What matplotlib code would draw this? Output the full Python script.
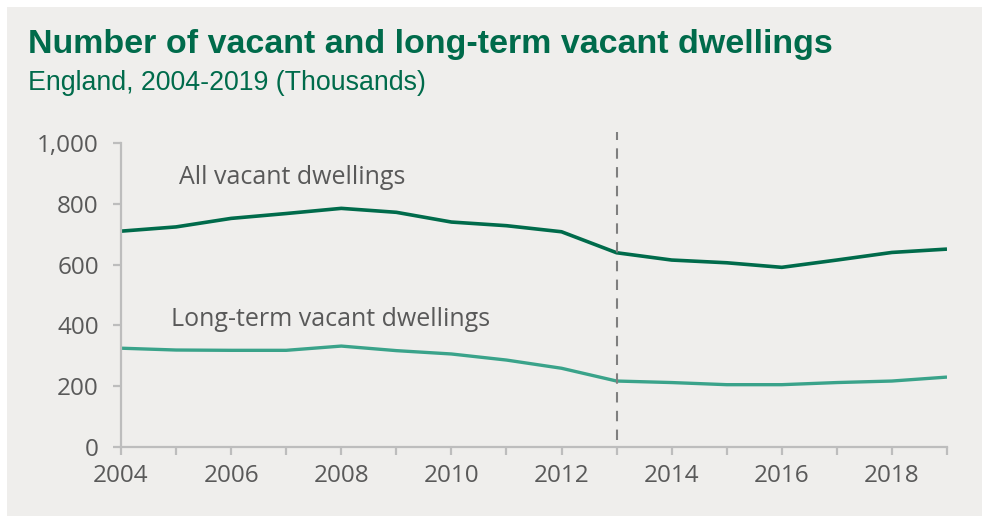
import matplotlib.pyplot as plt
from matplotlib.ticker import FuncFormatter

# values, thousands of dwellings
years = list(range(2004, 2020))
all_vacant = [710, 724, 752, 768, 785, 772, 740, 728, 708, 639, 615, 606, 591, 615, 640, 651]
long_term = [325, 319, 318, 318, 332, 317, 306, 286, 259, 217, 212, 205, 205, 212, 217, 230]
change_year = 2013

BG = "#efeeec"
DARK_GREEN = "#006b4b"
LIGHT_GREEN = "#3aa38a"
GREY_TXT = "#595959"
AXIS_GREY = "#bdbdbd"

plt.rcParams['font.family'] = ['Open Sans', 'DejaVu Sans']

fig = plt.figure(figsize=(9.82, 5.16), dpi=100)
fig.patch.set_facecolor("white")
# grey panel with a thin white margin on top and left
fig.patches.append(plt.Rectangle((7 / 982, -0.01), 1.02, 1.01 - 7 / 516, transform=fig.transFigure,
                                 facecolor=BG, edgecolor="none", zorder=-10))

ax = fig.add_axes([121 / 982, 1 - 447 / 516, (947 - 121) / 982, (447 - 143) / 516])
ax.set_facecolor("none")

ax.plot(years, all_vacant, color=DARK_GREEN, lw=2.6, solid_capstyle="butt")
ax.plot(years, long_term, color=LIGHT_GREEN, lw=2.4, solid_capstyle="butt")
ax.plot([change_year, change_year], [22, 1035], color="#7f7f7f", lw=1.5,
        dashes=(5, 4), clip_on=False)

ax.text(2005.05, 888, "All vacant dwellings", color=GREY_TXT, fontsize=18, va="center")
ax.text(2004.9, 418, "Long-term vacant dwellings", color=GREY_TXT, fontsize=18, va="center")

ax.set_xlim(2004, 2019)
ax.set_ylim(0, 1000)
ax.set_xticks(years)
ax.set_xticklabels([str(y) if y % 2 == 0 else "" for y in years])
ax.set_yticks(range(0, 1001, 200))
ax.yaxis.set_major_formatter(FuncFormatter(lambda v, p: f"{int(v):,}"))

for s in ["top", "right"]:
    ax.spines[s].set_visible(False)
for s in ["left", "bottom"]:
    ax.spines[s].set_color(AXIS_GREY)
    ax.spines[s].set_linewidth(1.6)
ax.tick_params(axis="both", colors=AXIS_GREY, length=6, width=1.6, labelsize=17.5,
               labelcolor=GREY_TXT)
ax.tick_params(axis="x", pad=6)
ax.tick_params(axis="y", pad=10)

fig.text(28 / 982, 1 - 45 / 516, "Number of vacant and long-term vacant dwellings",
         family="Liberation Sans", weight="bold", fontsize=24.5, color=DARK_GREEN, va="center")
fig.text(28 / 982, 1 - 83 / 516, "England, 2004-2019 (Thousands)",
         family="Liberation Sans", fontsize=19.3, color=DARK_GREEN, va="center")

fig.savefig("out.png", dpi=100, facecolor=fig.get_facecolor())
